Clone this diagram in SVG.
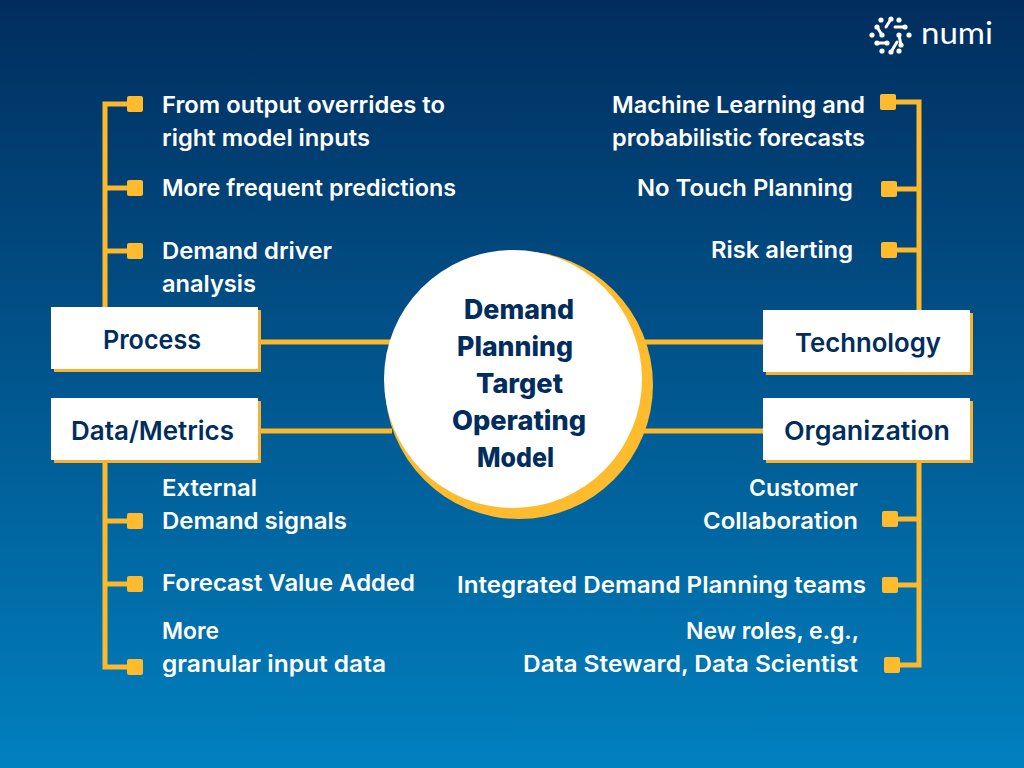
<svg xmlns="http://www.w3.org/2000/svg" width="1024" height="768" viewBox="0 0 1024 768">
<style>
.w{font-family:"Inter","Open Sans",sans-serif;font-weight:600;font-size:23px;fill:#fff}
.e{text-anchor:end}
.b{font-family:"Inter","Open Sans",sans-serif;font-weight:600;font-size:26px;fill:#012d5e;text-anchor:middle}
.c{font-family:"Inter","Open Sans",sans-serif;font-weight:800;font-size:27px;fill:#012d5e;text-anchor:middle}
.l{fill:none;stroke:#fdb92b;stroke-width:5}
.s{fill:#fdbb2d}
.sh{fill:#f8b230}
</style>
<defs><linearGradient id="bg" x1="0" y1="0" x2="0" y2="1"><stop offset="0" stop-color="#012d5e"/><stop offset="1" stop-color="#0180bf"/></linearGradient></defs>
<rect width="1024" height="768" fill="url(#bg)"/>
<g id="connectors" class="connectors">
<path class="l" d="M134 104H105V310"/>
<path class="l" d="M105 188H134"/>
<path class="l" d="M105 251H134"/>
<path class="l" d="M258 342H392"/>
<path class="l" d="M258 431H392"/>
<path class="l" d="M105 460V667H134"/>
<path class="l" d="M105 521H134"/>
<path class="l" d="M105 584H134"/>
<path class="l" d="M888 102H919V312"/>
<path class="l" d="M888 189H919"/>
<path class="l" d="M888 250H919"/>
<path class="l" d="M640 342H765"/>
<path class="l" d="M640 431H765"/>
<path class="l" d="M919 460V665H891"/>
<path class="l" d="M890 519H919"/>
<path class="l" d="M890 585H919"/>
</g>
<g id="bullets">
<rect class="s" x="127" y="96" width="16" height="16" rx="2"/>
<rect class="s" x="127" y="180" width="16" height="16" rx="2"/>
<rect class="s" x="127" y="243" width="16" height="16" rx="2"/>
<rect class="s" x="127" y="513" width="16" height="16" rx="2"/>
<rect class="s" x="127" y="576" width="16" height="16" rx="2"/>
<rect class="s" x="127" y="659" width="16" height="16" rx="2"/>
<rect class="s" x="880" y="94" width="16" height="16" rx="2"/>
<rect class="s" x="881" y="181" width="16" height="16" rx="2"/>
<rect class="s" x="881" y="242" width="16" height="16" rx="2"/>
<rect class="s" x="882" y="511" width="16" height="16" rx="2"/>
<rect class="s" x="882" y="577" width="16" height="16" rx="2"/>
<rect class="s" x="884" y="657" width="16" height="16" rx="2"/>
</g>
<g id="center">
<circle class="s" cx="519" cy="385" r="134"/>
<circle cx="513" cy="379" r="129" fill="#fff"/>
<text class="c" x="519" y="319" textLength="110" lengthAdjust="spacingAndGlyphs">Demand</text>
<text class="c" x="515" y="356" textLength="116" lengthAdjust="spacingAndGlyphs">Planning</text>
<text class="c" x="519.500" y="393" textLength="87" lengthAdjust="spacingAndGlyphs">Target</text>
<text class="c" x="519" y="430" textLength="134" lengthAdjust="spacingAndGlyphs">Operating</text>
<text class="c" x="515.500" y="467" textLength="77" lengthAdjust="spacingAndGlyphs">Model</text>
</g>
<g id="process">
<rect class="sh" x="54" y="310" width="207" height="62"/><rect x="51" y="307" width="207" height="62" fill="#fff"/>
<text class="b" x="152" y="349" textLength="98" lengthAdjust="spacingAndGlyphs">Process</text>
</g>
<g id="data-metrics">
<rect class="sh" x="54" y="401" width="207" height="62"/><rect x="51" y="398" width="207" height="62" fill="#fff"/>
<text class="b" x="152.500" y="440" textLength="163" lengthAdjust="spacingAndGlyphs">Data/Metrics</text>
</g>
<g id="technology">
<rect class="sh" x="766" y="313" width="207" height="62"/><rect x="763" y="310" width="207" height="62" fill="#fff"/>
<text class="b" x="868" y="352" textLength="146" lengthAdjust="spacingAndGlyphs">Technology</text>
</g>
<g id="organization">
<rect class="sh" x="766" y="401" width="207" height="62"/><rect x="763" y="398" width="207" height="62" fill="#fff"/>
<text class="b" x="867" y="440" textLength="166" lengthAdjust="spacingAndGlyphs">Organization</text>
</g>
<g id="labels">
<text class="w" x="162" y="113" textLength="283" lengthAdjust="spacingAndGlyphs">From output overrides to</text>
<text class="w" x="162" y="146" textLength="208" lengthAdjust="spacingAndGlyphs">right model inputs</text>
<text class="w" x="162" y="196" textLength="294" lengthAdjust="spacingAndGlyphs">More frequent predictions</text>
<text class="w" x="162" y="259" textLength="170" lengthAdjust="spacingAndGlyphs">Demand driver</text>
<text class="w" x="162" y="292" textLength="94" lengthAdjust="spacingAndGlyphs">analysis</text>
<text class="w" x="162" y="496" textLength="95" lengthAdjust="spacingAndGlyphs">External</text>
<text class="w" x="162" y="529" textLength="185" lengthAdjust="spacingAndGlyphs">Demand signals</text>
<text class="w" x="162" y="591" textLength="253" lengthAdjust="spacingAndGlyphs">Forecast Value Added</text>
<text class="w" x="162" y="639" textLength="57" lengthAdjust="spacingAndGlyphs">More</text>
<text class="w" x="162" y="672" textLength="224" lengthAdjust="spacingAndGlyphs">granular input data</text>
<text class="w e" x="865" y="113" textLength="253" lengthAdjust="spacingAndGlyphs">Machine Learning and</text>
<text class="w e" x="865" y="146" textLength="253" lengthAdjust="spacingAndGlyphs">probabilistic forecasts</text>
<text class="w e" x="853" y="196" textLength="216" lengthAdjust="spacingAndGlyphs">No Touch Planning</text>
<text class="w e" x="853" y="258" textLength="142" lengthAdjust="spacingAndGlyphs">Risk alerting</text>
<text class="w e" x="858" y="496" textLength="109" lengthAdjust="spacingAndGlyphs">Customer</text>
<text class="w e" x="858" y="529" textLength="155" lengthAdjust="spacingAndGlyphs">Collaboration</text>
<text class="w e" x="866" y="593" textLength="409" lengthAdjust="spacingAndGlyphs">Integrated Demand Planning teams</text>
<text class="w e" x="859" y="639" textLength="173" lengthAdjust="spacingAndGlyphs">New roles, e.g.,</text>
<text class="w e" x="858" y="672" textLength="335" lengthAdjust="spacingAndGlyphs">Data Steward, Data Scientist</text>
</g>
<g id="logo">
<g fill="#fff">
<circle cx="881" cy="20" r="2.600"/><circle cx="891" cy="19" r="2.600"/><circle cx="899" cy="20" r="2.600"/>
<circle cx="877" cy="27" r="2.600"/><circle cx="872" cy="35" r="2.600"/><circle cx="882" cy="35" r="2.600"/>
<circle cx="905" cy="27" r="2.600"/><circle cx="909" cy="35" r="2.600"/><circle cx="899" cy="35" r="2.600"/>
<circle cx="877" cy="43" r="2.600"/><circle cx="887" cy="43" r="2.600"/><circle cx="901" cy="45" r="2.600"/>
<circle cx="882" cy="51" r="2.600"/><circle cx="891" cy="52" r="2.600"/><circle cx="899" cy="51" r="2.600"/>
</g>
<path d="M882 35L877 27M891 19L886 27M905 27H895M899 35L901 45M877 43H887M891 52L897 42" fill="none" stroke="#fff" stroke-width="3" stroke-linecap="round"/>
<text x="921" y="44" font-family="Lato,sans-serif" font-size="30" fill="#fff" textLength="72" lengthAdjust="spacingAndGlyphs">numi</text>
</g>
</svg>
